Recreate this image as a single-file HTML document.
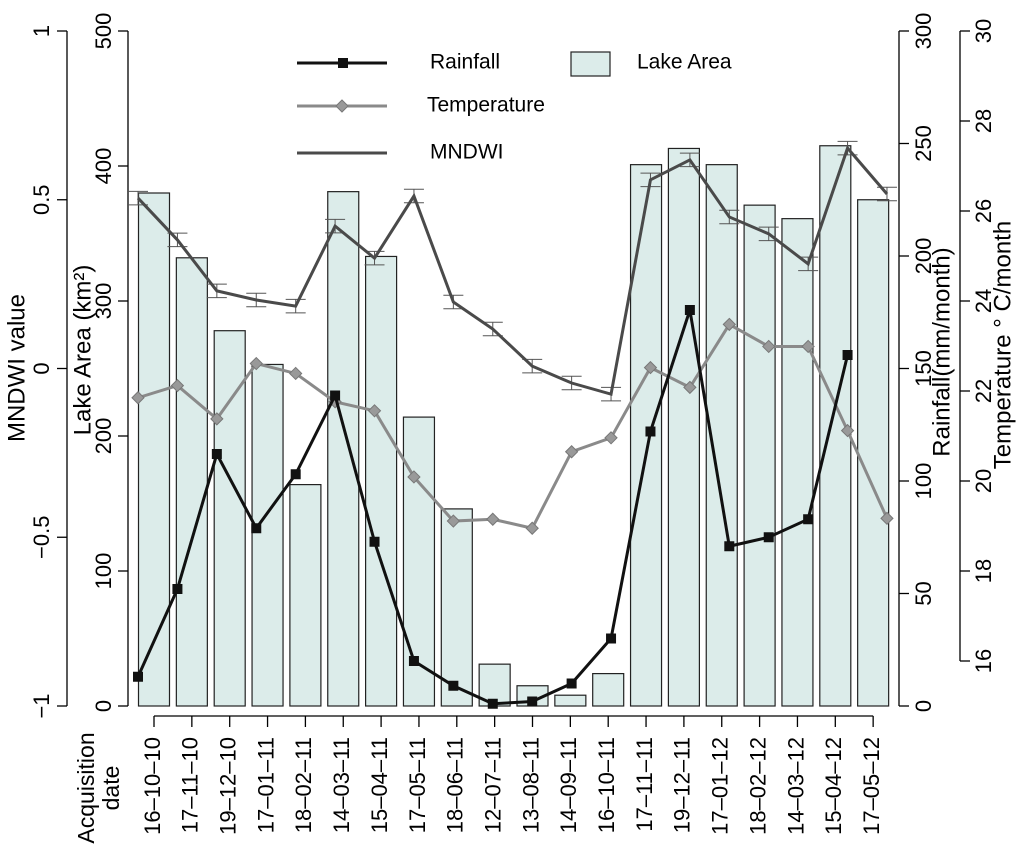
<!DOCTYPE html>
<html><head><meta charset="utf-8"><style>
body{margin:0;background:#fff}
svg{display:block;font-family:"Liberation Sans",Arial,sans-serif}
</style></head><body>
<svg id="chart" width="1024" height="849" viewBox="0 0 1024 849"></svg>
<script>
const dates=["16-10-10","17-11-10","19-12-10","17-01-11","18-02-11","14-03-11","15-04-11","17-05-11","18-06-11","12-07-11","13-08-11","14-09-11","16-10-11","17-11-11","19-12-11","17-01-12","18-02-12","14-03-12","15-04-12","17-05-12"];
const lakeArea=[380,332,278,253,164,381,333,214,146,31,15,8,24,401,413,401,371,361,415,375];
const rainfall=[13,52,112,79,103,138,73,20,9,1,2,10,30,122,176,71,75,83,156];
const temperature=[21.85,22.12,21.38,22.61,22.39,21.76,21.56,20.09,19.11,19.15,18.95,20.65,20.96,22.52,22.08,23.48,22.99,22.99,21.12,19.17];
const mndwi=[0.505,0.381,0.23,0.203,0.185,0.422,0.327,0.511,0.197,0.117,0.007,-0.043,-0.076,0.559,0.618,0.449,0.399,0.31,0.653,0.517];
const mndwiErr=[0.02,0.02,0.02,0.02,0.02,0.02,0.02,0.02,0.02,0.02,0.02,0.02,0.02,0.02,0.02,0.02,0.02,0.02,0.02,0.02];
const areaTicks=[0,100,200,300,400,500];
const mndwiTicks=[-1,-0.5,0,0.5,1];
const mndwiTickLabels=["\u22121","\u22120.5","0","0.5","1"];
const rainTicks=[0,50,100,150,200,250,300];
const tempTicks=[16,18,20,22,24,26,28,30];

const NS="http://www.w3.org/2000/svg";
const svg=document.getElementById('chart');
const TOP=31,BOT=706;
const yArea=v=>BOT-(v/500)*(BOT-TOP);
const yM=v=>BOT-((v+1)/2)*(BOT-TOP);
const yRain=v=>BOT-(v/300)*(BOT-TOP);
const yTemp=v=>BOT-((v-15)/15)*(BOT-TOP);
const xBar=i=>154+i*37.85;
const xPt=i=>138+i*39.42;
function el(tag,a,parent){const e=document.createElementNS(NS,tag);for(const k in a)e.setAttribute(k,a[k]);(parent||svg).appendChild(e);return e;}
function txt(s,x,y,rot,size,anchor){const t=el('text',{x:x,y:y,'font-size':size||20,'text-anchor':anchor||'middle','dominant-baseline':'middle',fill:'#000'});if(rot)t.setAttribute('transform','rotate(-90 '+x+' '+y+')');t.textContent=s;return t;}

const gb=el('g',{});


lakeArea.forEach((v,i)=>{const r=el('rect',{x:xBar(i)-15.5,y:yArea(v),width:31,height:BOT-yArea(v),fill:'#dcecea',stroke:'#222','stroke-width':1.2},gb);

});

function vaxis(x,ticks,yf,labels,dir,lx,name){const g=el('g',{});


el('line',{x1:x,y1:yf(ticks[0]),x2:x,y2:yf(ticks[ticks.length-1]),stroke:'#000','stroke-width':1.3},g);
ticks.forEach((t,i)=>{el('line',{x1:x,y1:yf(t),x2:x+dir*10,y2:yf(t),stroke:'#000','stroke-width':1.3},g);
const tt=txt(labels[i],lx,yf(t),true,22);g.appendChild(tt);});}
vaxis(67,mndwiTicks,yM,mndwiTickLabels,-1,43,'mndwi-axis');
vaxis(128,areaTicks,yArea,areaTicks.map(String),-1,105,'lake-area-axis');
vaxis(899,rainTicks,yRain,rainTicks.map(String),1,925,'rainfall-axis');
vaxis(960,tempTicks,yTemp,tempTicks.map(String),1,985,'temperature-axis');

const gx=el('g',{});


el('line',{x1:xBar(0),y1:716,x2:xBar(19),y2:716,stroke:'#000','stroke-width':1.3},gx);
dates.forEach((d,i)=>{el('line',{x1:xBar(i),y1:716,x2:xBar(i),y2:727,stroke:'#000','stroke-width':1.3},gx);
const t=el('text',{x:xBar(i),y:737,'font-size':22,'text-anchor':'end','dominant-baseline':'middle',transform:'rotate(-90 '+xBar(i)+' 737)'},gx);t.textContent=d.replace(/-/g,'\u2013');});
const xt=el('text',{x:0,y:0,'font-size':23,'text-anchor':'middle',transform:'translate(104 788) rotate(-90)'});


xt.innerHTML='<tspan x="0" dy="-10">Acquisition</tspan><tspan x="0" dy="25">date</tspan>';

const gm=el('g',{});


mndwi.forEach((v,i)=>{const x=xPt(i);el('line',{x1:x,y1:yM(v+mndwiErr[i]),x2:x,y2:yM(v-mndwiErr[i]),stroke:'#555','stroke-width':1},gm);
[v+mndwiErr[i],v-mndwiErr[i]].forEach(e=>el('line',{x1:x-10,y1:yM(e),x2:x+10,y2:yM(e),stroke:'#555','stroke-width':1},gm));});
el('polyline',{points:mndwi.map((v,i)=>xPt(i)+','+yM(v)).join(' '),fill:'none',stroke:'#4a4a4a','stroke-width':3},gm);

const gt=el('g',{});


el('polyline',{points:temperature.map((v,i)=>xPt(i)+','+yTemp(v)).join(' '),fill:'none',stroke:'#8a8a8a','stroke-width':3},gt);
temperature.forEach((v,i)=>{const x=xPt(i),y=yTemp(v);el('polygon',{points:`${x},${y-6} ${x+6},${y} ${x},${y+6} ${x-6},${y}`,fill:'#999',stroke:'#777','stroke-width':1},gt);});

const gr=el('g',{});


el('polyline',{points:rainfall.map((v,i)=>xPt(i)+','+yRain(v)).join(' '),fill:'none',stroke:'#111','stroke-width':3},gr);
rainfall.forEach((v,i)=>el('rect',{x:xPt(i)-5,y:yRain(v)-5,width:10,height:10,fill:'#111'},gr));

let a=txt('MNDWI value',18,368,true,24);
a=txt('Lake Area (km\u00b2)',84,350,true,24);
a=txt('Rainfall(mm/month)',943,352,true,24);
a=txt('Temperature \u00b0 C/month',1004,345,true,24);

const gl=el('g',{});


el('line',{x1:297,y1:63,x2:387,y2:63,stroke:'#111','stroke-width':3},gl);
el('rect',{x:338,y:58,width:10,height:10,fill:'#111'},gl);
let t=txt('Rainfall',430,63,false,21,'start');gl.appendChild(t);
el('rect',{x:571,y:52,width:39,height:24,fill:'#dcecea',stroke:'#222','stroke-width':1.2},gl);
t=txt('Lake Area',637,63,false,21,'start');gl.appendChild(t);
el('line',{x1:297,y1:106,x2:387,y2:106,stroke:'#8a8a8a','stroke-width':3},gl);
el('polygon',{points:'342,100 348,106 342,112 336,106',fill:'#999',stroke:'#777'},gl);
t=txt('Temperature',427,106,false,21,'start');gl.appendChild(t);
el('line',{x1:297,y1:153,x2:387,y2:153,stroke:'#4a4a4a','stroke-width':3},gl);
t=txt('MNDWI',430,153,false,21,'start');gl.appendChild(t);
</script>
</body></html>
